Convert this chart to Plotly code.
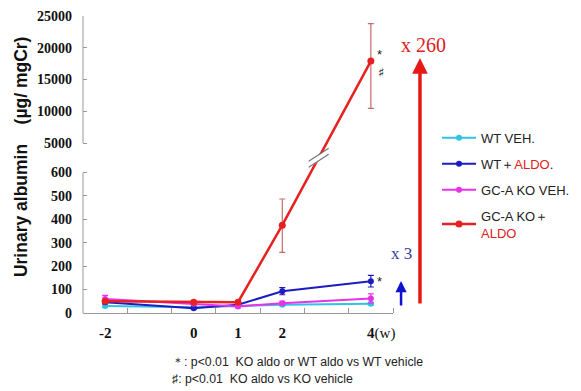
import plotly.graph_objects as go

# ---------------- data ----------------
weeks = [-2, 0, 1, 2, 4]
x_labels = ["<b>-2</b>", "<b>0</b>", "<b>1</b>", "<b>2</b>",
            "<span style='color:rgba(0,0,0,0)'>(w)</span><b>4</b>(w)"]
minor_ticks = [-1.5, -0.5, 0.5, 1.5, 2.5, 3.5, 4.5]

wt_veh = [30, 25, 30, 35, 40]
wt_aldo = [46, 20, 35, 93, 136]
ko_veh = [60, 40, 28, 42, 62]
ko_aldo = [50, 46, 46, 375, 17900]

wt_veh_err = [5, 4, 4, 5, 5]
wt_aldo_err = [6, 5, 5, 15, 25]
ko_veh_err = [15, 5, 5, 8, 20]
ko_aldo_err_up = [6, 5, 5, 112, 5900]
ko_aldo_err_down = [6, 5, 5, 116, 7450]

low_ticks = [0, 100, 200, 300, 400, 500, 600]
high_ticks = [5000, 10000, 15000, 20000, 25000]

names = ["WT VEH.",
         "WT＋<span style='color:#e02020'>ALDO</span>.",
         "GC-A KO VEH.",
         "GC-A KO＋<br><span style='color:#e02020'>ALDO</span>"]
colors = ["#2ec4e6", "#1c1cc0", "#e832e8", "#e82020"]
err_colors = ["#2ec4e6", "#1c1cc0", "#e832e8", "#c86a6a"]

# ---------------- broken-axis transform ----------------
LOW_MAX, HIGH_MIN, HIGH_MAX = 600, 5000, 25000
LOW_TOP, HIGH_BOT = 0.473, 0.5724


def T(v):
    if v <= (LOW_MAX + HIGH_MIN) / 2:
        return v / LOW_MAX * LOW_TOP
    return HIGH_BOT + (v - HIGH_MIN) / (HIGH_MAX - HIGH_MIN) * (1 - HIGH_BOT)


def tr(vals):
    return [T(v) for v in vals]


def err(vals, up, down):
    plus = [T(v + e) - T(v) for v, e in zip(vals, up)]
    minus = [T(v) - T(v - e) for v, e in zip(vals, down)]
    return plus, minus


fig = go.Figure()
series = [(wt_veh, wt_veh_err, wt_veh_err),
          (wt_aldo, wt_aldo_err, wt_aldo_err),
          (ko_veh, ko_veh_err, ko_veh_err),
          (ko_aldo, ko_aldo_err_up, ko_aldo_err_down)]
for i, (vals, up, down) in enumerate(series):
    plus, minus = err(vals, up, down)
    fig.add_trace(go.Scatter(
        x=weeks, y=tr(vals), name=names[i], mode="lines+markers",
        line=dict(color=colors[i], width=2.5 if i == 3 else 2),
        marker=dict(color=colors[i], size=7 if i == 3 else 6),
        error_y=dict(type="data", symmetric=False, array=plus, arrayminus=minus,
                     color=err_colors[i], thickness=1.2, width=3),
        legendgroup=str(i), cliponaxis=False,
    ))

# break mark on the red line
yc = (T(LOW_MAX) + T(HIGH_MIN)) / 2
y1, y2 = T(ko_aldo[3]), T(ko_aldo[4])
xc = weeks[3] + (yc - y1) / (y2 - y1) * (weeks[4] - weeks[3])
shapes = [
    dict(type="path", xref="x", yref="y", xsizemode="pixel", ysizemode="pixel",
         xanchor=xc, yanchor=yc, path="M -12,-5 L 12,10 L 12,4 L -12,-11 Z",
         fillcolor="white", line=dict(width=0)),
    dict(type="line", xref="x", yref="y", xsizemode="pixel", ysizemode="pixel",
         xanchor=xc, yanchor=yc, x0=-10, y0=-3.5, x1=10, y1=9.5,
         line=dict(color="#777777", width=1.2)),
    dict(type="line", xref="x", yref="y", xsizemode="pixel", ysizemode="pixel",
         xanchor=xc, yanchor=yc, x0=-10, y0=-9.5, x1=10, y1=3.5,
         line=dict(color="#777777", width=1.2)),
    # broken y axis lines
    dict(type="line", xref="paper", yref="y", x0=0, x1=0, y0=T(0), y1=T(LOW_MAX),
         line=dict(color="#999999", width=1)),
    dict(type="line", xref="paper", yref="y", x0=0, x1=0, y0=T(HIGH_MIN), y1=T(HIGH_MAX),
         line=dict(color="#999999", width=1)),
]

yticks = low_ticks + high_ticks
ytext = ["<b>%d</b>" % v for v in yticks]

serif = "Liberation Serif, Times New Roman, serif"
sans = "Liberation Sans, Arial, sans-serif"


def note(text, x, y, font, **kw):
    d = dict(text=text, xref="paper", yref="paper", x=x, y=y, showarrow=False,
             xanchor="center", yanchor="middle", font=font)
    d.update(kw)
    return d


annotations = [
    note("<b>Urinary albumin    (µg/ mgCr)</b>", -0.2, 0.525,
         dict(family=sans, size=17.5, color="#111111"), textangle=-90),
    note("x 260", 1.097, 0.902, dict(family=serif, size=20, color="#e02020")),
    note("x 3", 1.029, 0.202, dict(family=serif, size=17, color="#3c3c9c")),
    note("*", 0.958, 0.872, dict(family=sans, size=13, color="#222222")),
    note("♯", 0.960, 0.811, dict(family="DejaVu Sans", size=13, color="#222222")),
    note("*", 0.958, 0.105, dict(family=sans, size=13, color="#222222")),
    note("＊: p<0.01  KO aldo or WT aldo vs WT vehicle", 0.28, -0.166,
         dict(family=sans, size=12.3, color="#222222"), xanchor="left"),
    note("♯: p<0.01  KO aldo vs KO vehicle", 0.28, -0.223,
         dict(family=sans, size=12.3, color="#222222"), xanchor="left"),
    # arrows
    dict(text="", xref="paper", yref="paper", x=1.087, y=0.859, ax=0, ay=247,
         showarrow=True, arrowhead=2, arrowsize=0.9, arrowwidth=3.5, arrowcolor="#e81818"),
    dict(text="", xref="paper", yref="paper", x=1.026, y=0.108, ax=0, ay=26,
         showarrow=True, arrowhead=2, arrowsize=0.9, arrowwidth=2.5, arrowcolor="#1010d0"),
]

# the page body adds an 8px offset, so the figure is sized/margined accordingly
fig.update_layout(
    width=573, height=383,
    margin=dict(l=75, r=188, t=8, b=78, autoexpand=False),
    paper_bgcolor="white", plot_bgcolor="white",
    showlegend=True,
    legend=dict(x=1.142, y=0.64, xanchor="left", yanchor="top",
                font=dict(family=sans, size=13, color="#222222"),
                traceorder="grouped", tracegroupgap=6, bgcolor="rgba(0,0,0,0)",
                itemwidth=34),
    xaxis=dict(range=[-2.5, 4.5], tickmode="array", tickvals=weeks, ticktext=x_labels,
               ticks="", showgrid=False, zeroline=False, showline=True, automargin=False,
               linecolor="#999999", linewidth=1, ticklabelstandoff=6,
               tickfont=dict(family=serif, size=15, color="#111111"),
               minor=dict(tickmode="array", tickvals=minor_ticks, ticks="inside",
                          ticklen=5, tickcolor="#999999", showgrid=False)),
    yaxis=dict(range=[0, 1], tickmode="array", tickvals=tr(yticks), ticktext=ytext,
               ticks="inside", ticklen=4, tickcolor="#999999", showgrid=False,
               zeroline=False, showline=False, ticklabelstandoff=10, automargin=False,
               tickfont=dict(family=serif, size=14, color="#111111")),
    shapes=shapes,
    annotations=annotations,
)

fig.write_html("out.html")
